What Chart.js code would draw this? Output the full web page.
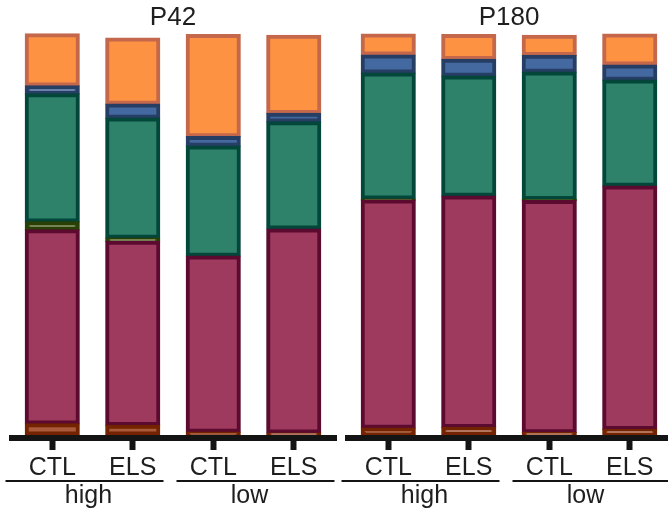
<!DOCTYPE html>
<html>
<head>
<meta charset="utf-8">
<script src="https://cdn.jsdelivr.net/npm/chart.js@4/dist/chart.umd.min.js"></script>
<style>
  html, body { margin: 0; padding: 0; background: #fff; overflow: hidden; }
  #wrap { position: relative; width: 668px; height: 519px; overflow: hidden; }
  canvas { position: absolute; top: 0; }
  #p42 { left: 0; }
  #p180 { left: 340px; }
</style>
</head>
<body>
<div id="wrap">
  <canvas id="p42" width="340" height="519"></canvas>
  <canvas id="p180" width="330" height="519"></canvas>
</div>
<script>
// categorias
const conditions = ['CTL', 'ELS', 'CTL', 'ELS'];
const groups = ['high', 'low'];

// P42 (% por segmento, de baixo para cima)
const p42Brown  = [2.8, 2.4, 0.7, 0.5];
const p42Maroon = [48.5, 46, 44, 51];
const p42Olive  = [2, 0.8, 0, 0];
const p42Green  = [32, 30, 27.5, 26.8];
const p42Blue   = [2, 3.5, 2.4, 2.1];
const p42Orange = [13, 16.5, 25.5, 19.5];

// P180
const p180Brown  = [1.7, 1.9, 0.6, 1.4];
const p180Maroon = [57, 57.8, 58, 60.8];
const p180Olive  = [0.3, 0, 0.3, 0];
const p180Green  = [31.5, 30, 31.8, 26.5];
const p180Blue   = [4.5, 4.2, 4.2, 3.8];
const p180Orange = [5.2, 6.2, 5, 7.7];

const fontFamily = '"Liberation Sans", Arial, sans-serif';

// cores (preenchimento, borda)
const colors = [
    ['#a85a3a', '#742300'],
    ['#9e3a5e', '#5c0a2f'],
    ['#5b6b2b', '#283f05'],
    ['#2e826a', '#03463a'],
    ['#4468a0', '#263e63'],
    ['#fd9243', '#c4674b']
];

function montarDatasets(series) {
    return series.map((vals, i) => ({
        data: vals,
        backgroundColor: colors[i][0],
        borderColor: colors[i][1],
        borderWidth: 4,
        borderSkipped: false,
        inflateAmount: 0.6,
        barPercentage: 0.67,
        categoryPercentage: 1,
        clip: false
    }));
}

// linha do eixo + rótulos de grupo
const eixoPlugin = {
    id: 'eixo',
    afterDraw(chart) {
        const ctx = chart.ctx;
        const area = chart.chartArea;
        const x = chart.scales.x;
        ctx.save();
        ctx.fillStyle = '#141414';
        ctx.fillRect(area.left - 3, area.bottom, area.right - area.left + 6, 6);

        const offsets = [-8, 2];
        groups.forEach((g, gi) => {
            const c = (x.getPixelForValue(gi * 2) + x.getPixelForValue(gi * 2 + 1)) / 2;
            const lc = c + offsets[gi];
            ctx.fillStyle = '#141414';
            ctx.fillRect(lc - 79, area.bottom + 45, 158, 2);
            ctx.fillStyle = '#1e1e1e';
            ctx.font = '25px ' + fontFamily;
            ctx.textAlign = 'center';
            ctx.textBaseline = 'alphabetic';
            ctx.fillText(g, c - 4, area.bottom + 68);
        });
        ctx.restore();
    }
};

function criarGrafico(id, titulo, series, padding) {
    return new Chart(document.getElementById(id), {
        type: 'bar',
        data: { labels: conditions, datasets: montarDatasets(series) },
        options: {
            responsive: false,
            animation: false,
            devicePixelRatio: 1,
            layout: { padding: padding },
            plugins: {
                legend: { display: false },
                tooltip: { enabled: false },
                title: {
                    display: true,
                    text: titulo,
                    color: '#1e1e1e',
                    font: { family: fontFamily, size: 26, weight: 'normal', lineHeight: 1.2 },
                    padding: { top: 2, bottom: 1.8 }
                }
            },
            scales: {
                x: {
                    stacked: true,
                    border: { display: false },
                    grid: {
                        offset: false,
                        drawOnChartArea: false,
                        drawTicks: true,
                        tickLength: 15,
                        tickWidth: 6,
                        tickColor: '#141414'
                    },
                    ticks: {
                        color: '#1e1e1e',
                        padding: 3,
                        font: { family: fontFamily, size: 25 }
                    }
                },
                y: { stacked: true, display: false, min: 0, max: 100 }
            }
        },
        plugins: [eixoPlugin]
    });
}

criarGrafico('p42', 'P42',
    [p42Brown, p42Maroon, p42Olive, p42Green, p42Blue, p42Orange],
    { left: 12, right: 6, top: 0, bottom: 33 });
criarGrafico('p180', 'P180',
    [p180Brown, p180Maroon, p180Olive, p180Green, p180Blue, p180Orange],
    { left: 8, right: 0, top: 0, bottom: 33 });
</script>
</body>
</html>
